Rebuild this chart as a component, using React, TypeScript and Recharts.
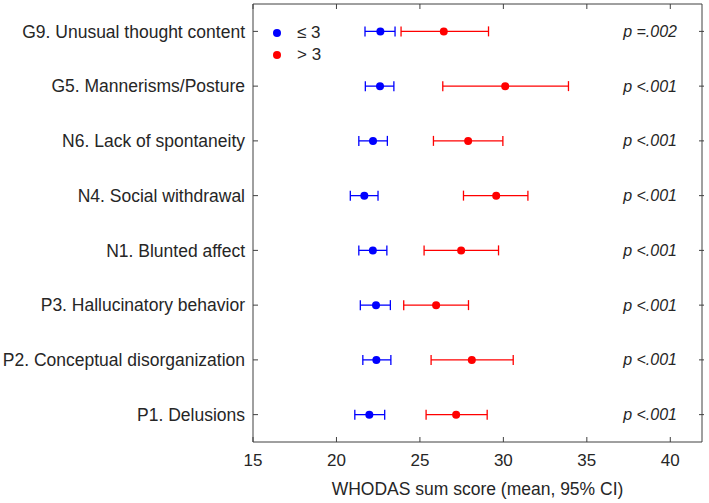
import { ScatterChart, Scatter, XAxis, YAxis, ErrorBar, ReferenceLine } from 'recharts';

// PANSS items, top to bottom
const items = [
  'G9. Unusual thought content',
  'G5. Mannerisms/Posture',
  'N6. Lack of spontaneity',
  'N4. Social withdrawal',
  'N1. Blunted affect',
  'P3. Hallucinatory behavior',
  'P2. Conceptual disorganization',
  'P1. Delusions',
];
const pValues = ['p =.002', 'p <.001', 'p <.001', 'p <.001', 'p <.001', 'p <.001', 'p <.001', 'p <.001'];

// score <= 3
const lowMean = [22.63, 22.61, 22.19, 21.67, 22.18, 22.37, 22.39, 21.97];
const lowLower = [21.71, 21.73, 21.34, 20.83, 21.34, 21.43, 21.58, 21.1];
const lowUpper = [23.51, 23.44, 23.05, 22.49, 23.02, 23.23, 23.26, 22.89];

// score > 3
const highMean = [26.43, 30.11, 27.89, 29.57, 27.47, 25.97, 28.11, 27.17];
const highLower = [23.87, 26.37, 25.81, 27.61, 25.25, 24.03, 25.67, 25.37];
const highUpper = [29.11, 33.9, 29.97, 31.47, 29.71, 27.91, 30.59, 29.03];

const xTicks = [15, 20, 25, 30, 35, 40];
const rowTicks = items.map((_, i) => i + 0.5);

const buildSeries = (mean: number[], lower: number[], upper: number[]) =>
  items.map((name, i) => ({
    name,
    row: i + 0.5,
    mean: mean[i],
    ci: [mean[i] - lower[i], upper[i] - mean[i]],
  }));

const lowData = buildSeries(lowMean, lowLower, lowUpper);
const highData = buildSeries(highMean, highLower, highUpper);

const FONT = '"Liberation Sans", Arial, sans-serif';
const TEXT = '#262626';
const AXIS = '#404040';
const BLUE = '#0000ff';
const RED = '#ff0000';
const TICK_LEN = 5;

const series = [
  { name: '≤ 3', color: BLUE, data: lowData },
  { name: '> 3', color: RED, data: highData },
];

const BottomTick = (props: any) => {
  const { x, y, payload } = props;
  const axisY = y - 12;
  return (
    <g>
      <line x1={x} x2={x} y1={axisY} y2={axisY - TICK_LEN} stroke={AXIS} />
      <text x={x} y={y} dy="0.71em" textAnchor="middle" fill={TEXT} fontSize={17} fontFamily={FONT}>
        {payload.value}
      </text>
    </g>
  );
};

// top frame line
const TopFrameShape = (props: any) => {
  const { x1, x2, y1 } = props;
  return <line x1={x1} x2={x2} y1={y1} y2={y1} stroke={AXIS} strokeWidth={1} />;
};

// the reference line spans the plot, keep only its first few px as a top tick
const TopTickShape = (props: any) => {
  const { x1, y1, y2 } = props;
  const top = Math.min(Number(y1), Number(y2));
  return <line x1={x1} x2={x1} y1={top} y2={top + TICK_LEN} stroke={AXIS} />;
};

const LeftTick = (props: any) => {
  const { x, y, payload } = props;
  const axisX = x + 8;
  return (
    <g>
      <line x1={axisX} x2={axisX + TICK_LEN} y1={y} y2={y} stroke={AXIS} />
      <text x={x} y={y} dy="0.35em" textAnchor="end" fill={TEXT} fontSize={17.5} fontFamily={FONT}>
        {items[Math.floor(payload.value)]}
      </text>
    </g>
  );
};

const RightTick = (props: any) => {
  const { x, y, payload } = props;
  return (
    <g>
      <line x1={x} x2={x - TICK_LEN} y1={y} y2={y} stroke={AXIS} />
      <text x={x - 27} y={y} dy="0.35em" textAnchor="end" fill={TEXT} fontSize={16} fontStyle="italic" fontFamily={FONT}>
        {pValues[Math.floor(payload.value)]}
      </text>
    </g>
  );
};

const Dot = (color: string) => (p: any) => <circle cx={p.cx} cy={p.cy} r={4} fill={color} />;

export default function App(): JSX.Element {
  return (
    <div style={{ position: 'absolute', left: 0, top: 0, width: 709, height: 503, background: '#fff' }}>
      <ScatterChart width={709} height={503} margin={{ top: 4, right: 0, bottom: 1, left: 0 }}>
        <XAxis
          type="number"
          dataKey="mean"
          domain={[15, 41.9]}
          ticks={xTicks}
          allowDataOverflow
          axisLine={{ stroke: AXIS }}
          tickLine={false}
          tickSize={0}
          tickMargin={12}
          tick={<BottomTick />}
          height={60}
          label={{ value: 'WHODAS sum score (mean, 95% CI)', position: 'insideBottom', offset: 7, fill: TEXT, fontSize: 17.5, fontFamily: FONT }}
        />
        <YAxis
          type="number"
          dataKey="row"
          domain={[0, 8]}
          ticks={rowTicks}
          reversed
          allowDataOverflow
          axisLine={{ stroke: AXIS }}
          tickLine={false}
          tickSize={0}
          tickMargin={8}
          tick={<LeftTick />}
          width={253}
        />
        <YAxis
          yAxisId="right"
          orientation="right"
          type="number"
          domain={[0, 8]}
          ticks={rowTicks}
          reversed
          allowDataOverflow
          axisLine={{ stroke: AXIS }}
          tickLine={false}
          tickSize={0}
          tick={<RightTick />}
          width={7}
        />
        <ReferenceLine y={0} ifOverflow="visible" stroke={AXIS} strokeWidth={2} shape={<TopFrameShape />} />
        {xTicks.map((t) => (
          <ReferenceLine key={t} x={t} ifOverflow="visible" shape={<TopTickShape />} />
        ))}
        {series.map((s) => (
          <Scatter key={s.name} name={s.name} data={s.data} fill={s.color} shape={Dot(s.color)} isAnimationActive={false}>
            <ErrorBar dataKey="ci" direction="x" width={5} stroke={s.color} strokeWidth={1.3} />
          </Scatter>
        ))}
      </ScatterChart>
      <div style={{ position: 'absolute', left: 273, top: 22, fontFamily: FONT, fontSize: 17, color: TEXT, lineHeight: '22px' }}>
        {series.map((s) => (
          <div key={s.name} style={{ display: 'flex', alignItems: 'center' }}>
            <span style={{ display: 'inline-block', width: 8, height: 8, borderRadius: 4, background: s.color, marginRight: 16 }} />
            <span>{s.name}</span>
          </div>
        ))}
      </div>
    </div>
  );
}
